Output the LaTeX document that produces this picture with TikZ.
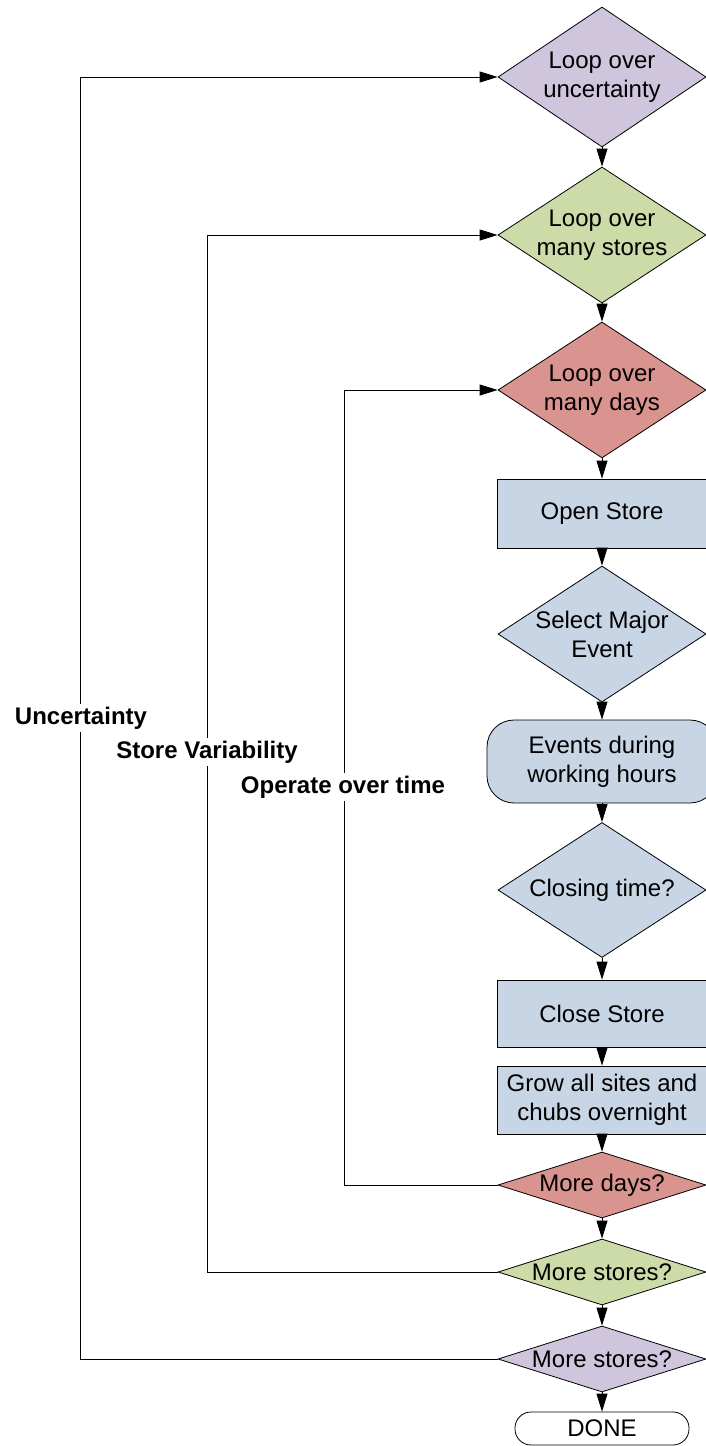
\documentclass[tikz,border=0pt]{standalone}
\usepackage{fontspec}
\setmainfont{Liberation Sans}
\usetikzlibrary{shapes.geometric,arrows.meta}

\definecolor{lilac}{HTML}{CFC6DE}
\definecolor{sage}{HTML}{CCDBA8}
\definecolor{rose}{HTML}{D9948F}
\definecolor{steel}{HTML}{C8D5E4}

\tikzset{
  base/.style={font=\fontsize{24}{29}\selectfont},
  txt/.style={base, align=center, inner sep=0pt},
  dec/.style={diamond, draw=black, line width=0.8pt, minimum width=208pt,
              minimum height=#1, inner sep=0pt},
  proc/.style={rectangle, draw=black, line width=0.8pt, fill=steel,
               minimum width=210pt, minimum height=#1, inner sep=0pt,
               base, align=center},
  flow/.style={-{Triangle[length=18pt,width=11pt]}, line width=0.8pt},
  tag/.style={fill=white, font=\fontsize{24}{29}\selectfont\bfseries,
              inner xsep=2pt, inner ysep=3pt}
}

\begin{document}
\begin{tikzpicture}[x=1pt,y=-1pt]
\useasboundingbox (0,0) rectangle (706,1446);

% main column
\node[dec=140pt, fill=lilac, label={[txt]center:{Loop over\\uncertainty}}] (d1) at (602,77) {};
\node[dec=136pt, fill=sage,  label={[txt]center:{Loop over\\many stores}}] (d2) at (602,235) {};
\node[dec=136pt, fill=rose,  label={[txt]center:{Loop over\\many days}}] (d3) at (602,390) {};
\node[proc=69pt] (open) at (602,513.5) {Open Store};
\node[dec=136pt, fill=steel, label={[txt]center:{Select Major\\Event}}] (major) at (602,634) {};
\node[rectangle, rounded corners=27pt, draw=black, line width=0.8pt, fill=steel,
      minimum width=230pt, minimum height=83pt, base, align=center, inner sep=0pt]
      (events) at (602,761.5) {Events during\\working hours};
\node[dec=135pt, fill=steel, label={[txt]center:{Closing time?}}] (closing) at (602,890) {};
\node[proc=67pt] (close) at (602,1013.5) {Close Store};
\node[proc=68pt] (grow) at (602,1100) {Grow all sites and\\chubs overnight};
\node[dec=66pt, fill=rose,  label={[txt]center:{More days?}}] (d6) at (602,1185) {};
\node[dec=66pt, fill=sage,  label={[txt]center:{More stores?}}] (d7) at (602,1272) {};
\node[dec=66pt, fill=lilac, label={[txt]center:{More stores?}}] (d8) at (602,1359) {};
\node[rectangle, rounded corners=16pt, draw=black, line width=0.8pt, fill=white,
      minimum width=174pt, minimum height=33pt, base, inner sep=0pt]
      (done) at (602,1428.5) {DONE};

% straight flow
\draw[flow] (d1) -- (d2);
\draw[flow] (d2) -- (d3);
\draw[flow] (d3) -- (open);
\draw[flow] (open) -- (major);
\draw[flow] (major) -- (events);
\draw[flow] (events) -- (closing);
\draw[flow] (closing) -- (close);
\draw[flow] (close) -- (grow);
\draw[flow] (grow) -- (d6);
\draw[flow] (d6) -- (d7);
\draw[flow] (d7) -- (d8);
\draw[flow] (d8) -- (done);

% return lanes
\coordinate (laneA) at (80,0);
\coordinate (laneB) at (207,0);
\coordinate (laneC) at (344,0);

\draw[flow] (d6.west) -- (d6.west -| laneC) -- (d3.west -| laneC) -- (d3.west);
\draw[flow] (d7.west) -- (d7.west -| laneB) -- (d2.west -| laneB) -- (d2.west);
\draw[flow] (d8.west) -- (d8.west -| laneA) -- (d1.west -| laneA) -- (d1.west);

% lane captions
\node[tag] (tagA) at (81,718) {Uncertainty};
\node[tag] (tagB) at (207,752) {Store Variability};
\node[tag] (tagC) at (343,787) {Operate over time};
\end{tikzpicture}
\end{document}
